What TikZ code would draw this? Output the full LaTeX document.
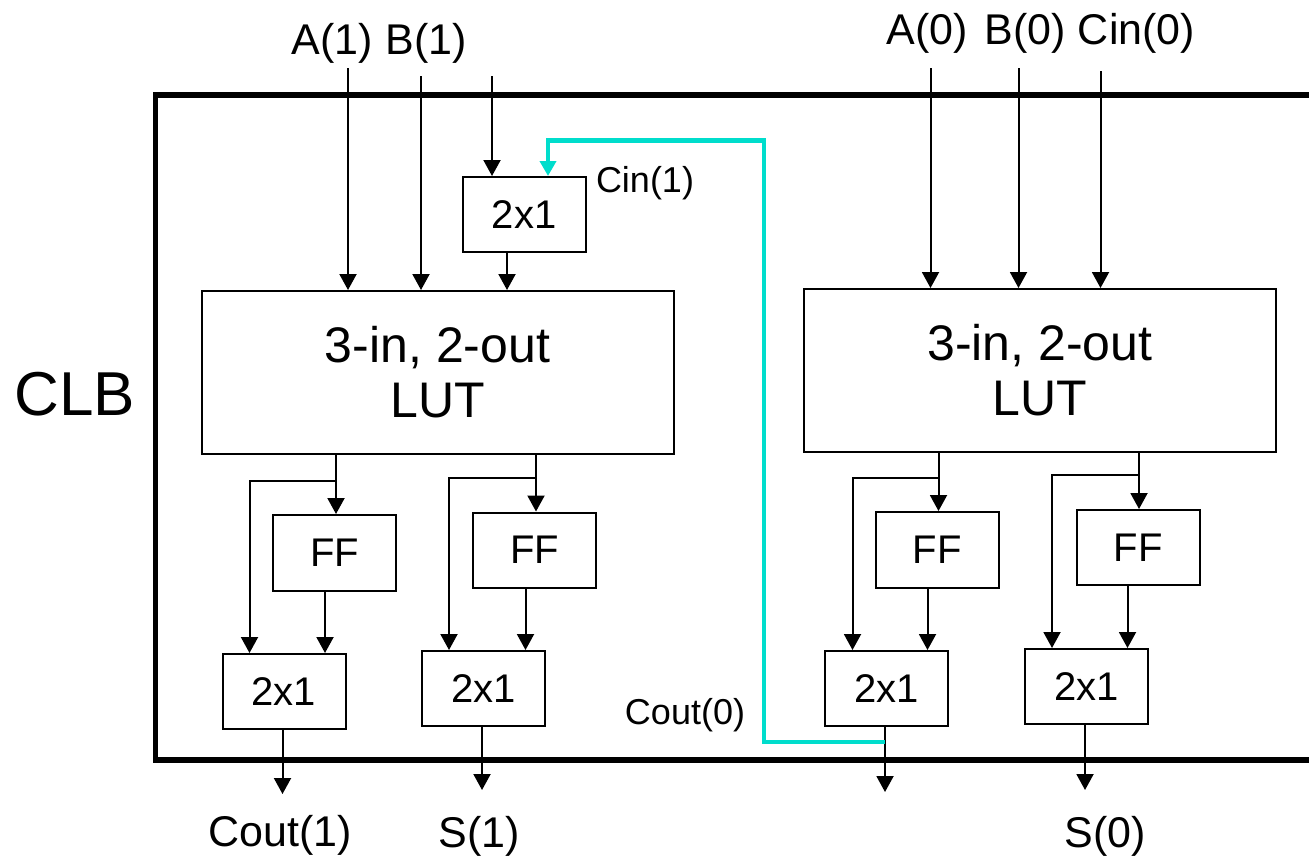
\documentclass[tikz,border=0pt]{standalone}
\usepackage{fontspec}
\setmainfont{Liberation Sans}
\usetikzlibrary{arrows.meta}
\definecolor{carry}{RGB}{0,221,204}
\begin{document}
\begin{tikzpicture}[x=0.5pt,y=-0.5pt,
  blk/.style={draw,line width=1pt,inner sep=0pt,minimum width=61.5pt,minimum height=37.5pt,font=\fontsize{20pt}{24pt}\selectfont},
  lut/.style={draw,line width=1pt,inner sep=0pt,minimum width=236pt,minimum height=81.5pt,align=center,font=\fontsize{25pt}{27.5pt}\selectfont},
  lbl/.style={inner sep=0pt,font=\fontsize{21.5pt}{24pt}\selectfont},
  slbl/.style={inner sep=0pt,font=\fontsize{18pt}{20pt}\selectfont},
  wire/.style={line width=1pt},
  arr/.style={line width=1pt,-{Triangle[length=8pt,width=8.5pt]}},
  cwire/.style={line width=2.2pt,color=carry,-{Triangle[length=7.5pt,width=8pt]}}]
\useasboundingbox (0,0) rectangle (1309,858);
% CLB frame
\draw[line width=2.6pt] (1309,95) -- (155.5,95) -- (155.5,760) -- (1309,760);
\node[inner sep=0pt,font=\fontsize{31pt}{34pt}\selectfont] (clb) at (75,394) {CLB};
% ---------- left slice ----------
\node[blk] (mux0) at (524,214.5) {2x1};
\node[lut] (lut1) at (437.5,372.5) {3-in, 2-out\\LUT};
\node[blk,minimum height=38pt] (ff1) at (334.5,553) {FF};
\node[blk] (ff2) at (534.5,550) {FF};
\node[blk] (mux1) at (284,691.5) {2x1};
\node[blk] (mux2) at (483.75,688.5) {2x1};
% ---------- right slice ----------
\node[lut] (lut2) at (1039.75,370.5) {3-in, 2-out\\LUT};
\node[blk,minimum height=38pt] (ff3) at (937,550) {FF};
\node[blk] (ff4) at (1138,547.5) {FF};
\node[blk] (mux3) at (886.5,688.5) {2x1};
\node[blk] (mux4) at (1086.5,686.5) {2x1};
% labels
\node[lbl] (la1) at (332,43) {A(1)};
\node[lbl] (lb1) at (426,43) {B(1)};
\node[lbl] (la0) at (927,33) {A(0)};
\node[lbl] (lb0) at (1025.5,33) {B(0)};
\node[lbl] (lc0) at (1136.5,33) {Cin(0)};
\node[slbl] (lc1) at (645,183) {Cin(1)};
\node[slbl] (lco0) at (685,715) {Cout(0)};
\node[lbl] (lco1) at (280,835) {Cout(1)};
\node[lbl] (ls1) at (479,836) {S(1)};
\node[lbl] (ls0) at (1105.5,836) {S(0)};
% input wire starts
\coordinate (ia1) at (348,68);
\coordinate (ib1) at (421,76);
\coordinate (ic1) at (492,76);
\coordinate (ia0) at (930.5,68);
\coordinate (ib0) at (1018.5,68);
\coordinate (ic0) at (1100.5,71);
% output wire ends
\coordinate (oco1) at (282.5,794);
\coordinate (os1) at (482,790);
\coordinate (oco0) at (885,792);
\coordinate (os0) at (1085,790);
% branch points
\coordinate (b1) at (336,481);
\coordinate (b2) at (536,478);
\coordinate (b3) at (938.5,478);
\coordinate (b4) at (1139,475);
\coordinate (cy1) at (764,742);
\coordinate (cy2) at (764,140.5);
\coordinate (cy3) at (548,140.5);
% inputs
\draw[arr] (ia1) -- (ia1 |- lut1.north);
\draw[arr] (ib1) -- (ib1 |- lut1.north);
\draw[arr] (ic1) -- (ic1 |- mux0.north);
\draw[arr] (507,0 |- mux0.south) -- (507,0 |- lut1.north);
\draw[arr] (ia0) -- (ia0 |- lut2.north);
\draw[arr] (ib0) -- (ib0 |- lut2.north);
\draw[arr] (ic0) -- (ic0 |- lut2.north);
% left slice internals
\draw[arr] (b1 |- lut1.south) -- (b1 |- ff1.north);
\draw[arr] (b1) -- (249.5,481) -- (249.5,0 |- mux1.north);
\draw[arr] (325,0 |- ff1.south) -- (325,0 |- mux1.north);
\draw[arr] (oco1 |- mux1.south) -- (oco1);
\draw[arr] (b2 |- lut1.south) -- (b2 |- ff2.north);
\draw[arr] (b2) -- (449,478) -- (449,0 |- mux2.north);
\draw[arr] (525.5,0 |- ff2.south) -- (525.5,0 |- mux2.north);
\draw[arr] (os1 |- mux2.south) -- (os1);
% right slice internals
\draw[arr] (b3 |- lut2.south) -- (b3 |- ff3.north);
\draw[arr] (b3) -- (852.5,478) -- (852.5,0 |- mux3.north);
\draw[arr] (927.5,0 |- ff3.south) -- (927.5,0 |- mux3.north);
\draw[arr] (oco0 |- mux3.south) -- (oco0);
\draw[arr] (b4 |- lut2.south) -- (b4 |- ff4.north);
\draw[arr] (b4) -- (1052,475) -- (1052,0 |- mux4.north);
\draw[arr] (1127.5,0 |- ff4.south) -- (1127.5,0 |- mux4.north);
\draw[arr] (os0 |- mux4.south) -- (os0);
% carry chain
\draw[cwire] (oco0 |- cy1) -- (cy1) -- (cy2) -- (cy3) -- (cy3 |- mux0.north);
\end{tikzpicture}
\end{document}
